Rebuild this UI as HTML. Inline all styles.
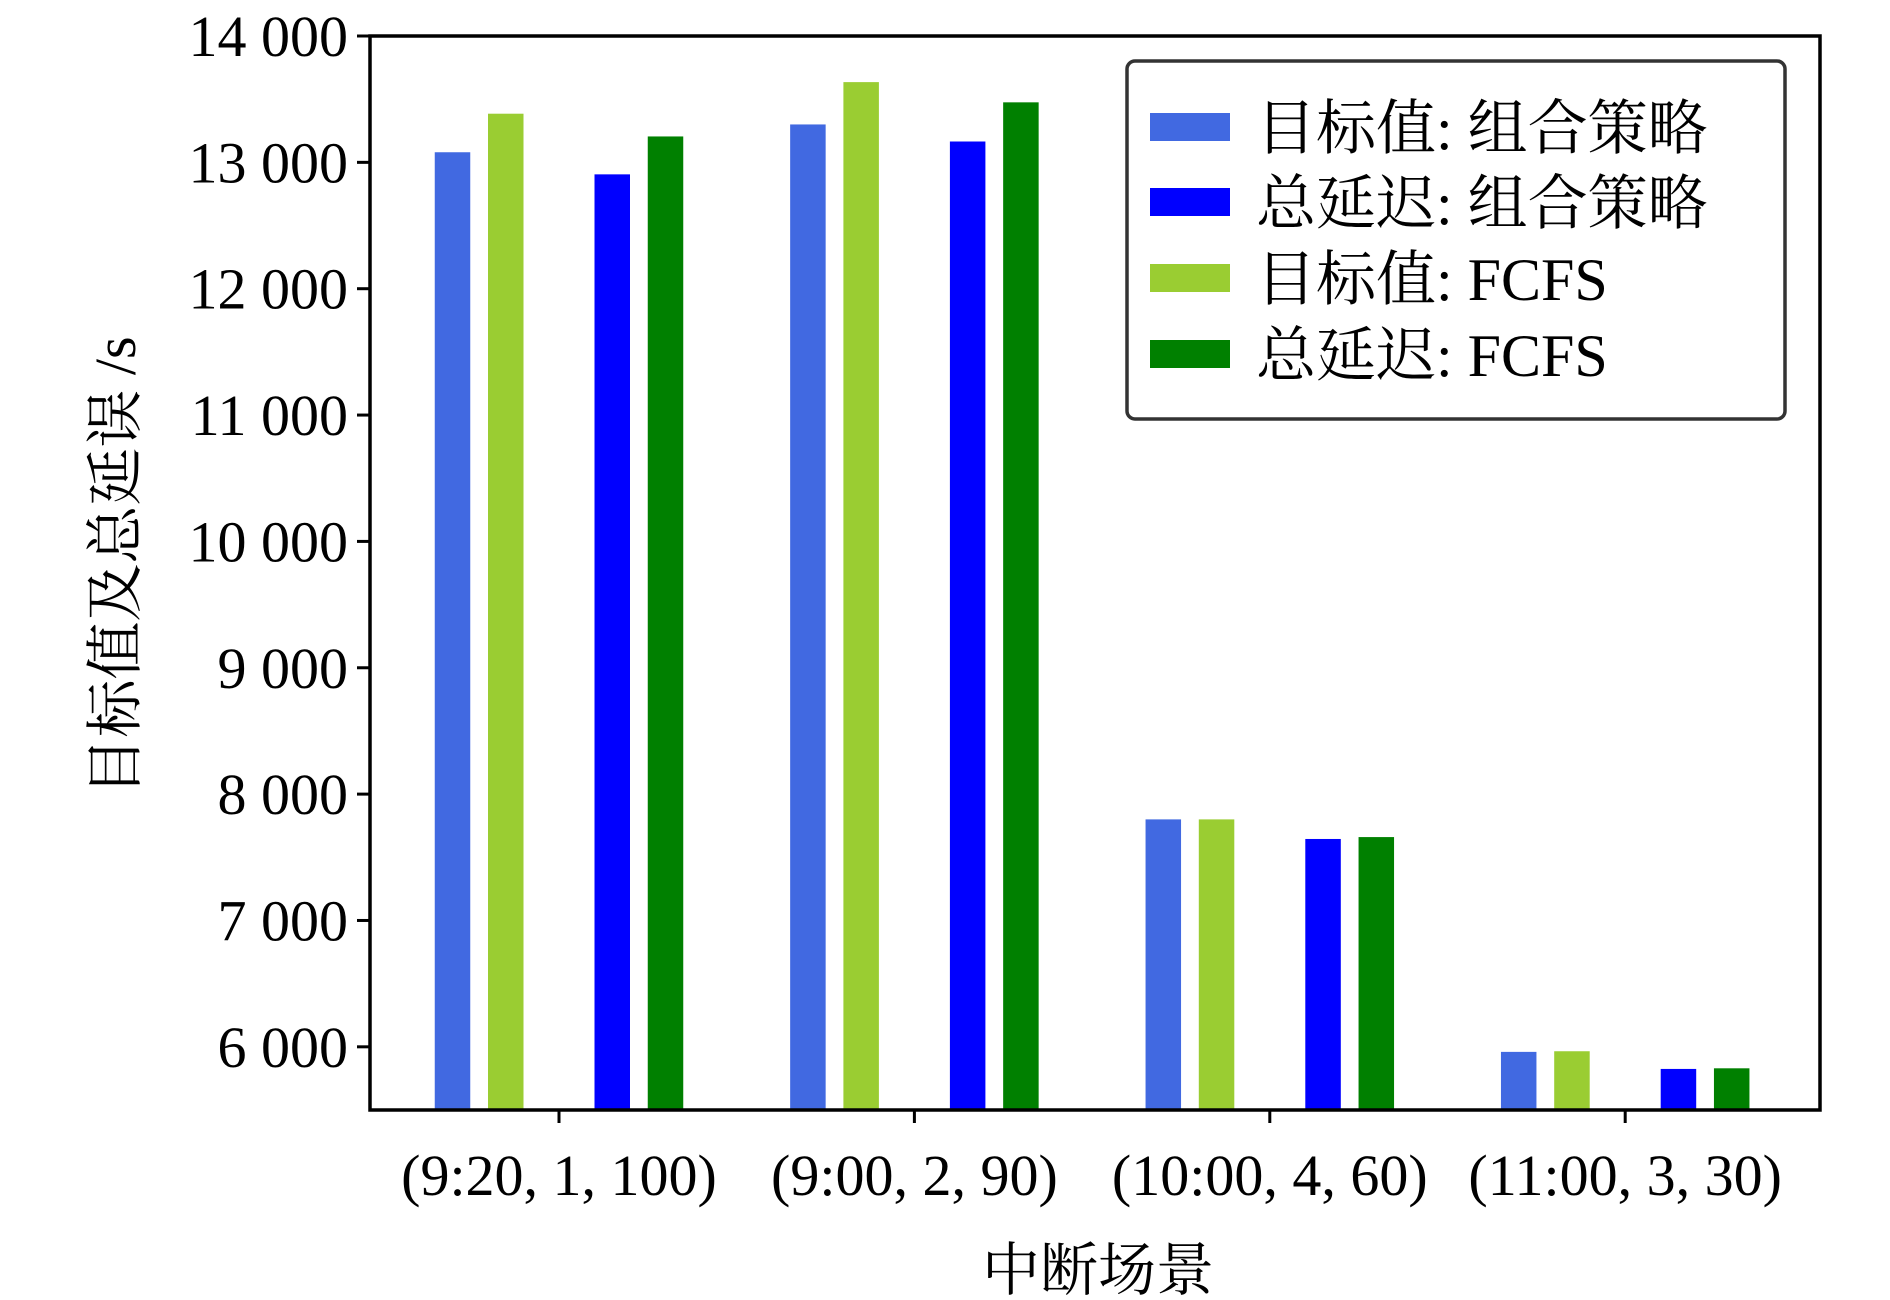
<!DOCTYPE html>
<html><head><meta charset="utf-8"><style>
body{margin:0;background:#fff}
svg text{font-family:"Liberation Serif","Noto Serif CJK SC",serif;fill:#000}
</style></head><body>
<svg id="chart" width="1890" height="1295" viewBox="0 0 1890 1295" xmlns="http://www.w3.org/2000/svg">
<g id="bars"></g>
<g id="axes"></g>
<g id="legend"></g>
</svg>
<script>
const categories = ["(9:20, 1, 100)", "(9:00, 2, 90)", "(10:00, 4, 60)", "(11:00, 3, 30)"];
const objCombo = [13080, 13300, 7800, 5960];
const objFcfs = [13385, 13635, 7800, 5965];
const delayCombo = [12905, 13165, 7645, 5825];
const delayFcfs = [13205, 13475, 7660, 5830];
const yTicks = [6000, 7000, 8000, 9000, 10000, 11000, 12000, 13000, 14000];
const yTickLabels = ["6 000","7 000","8 000","9 000","10 000","11 000","12 000","13 000","14 000"];
const seriesNames = ["目标值: 组合策略","总延迟: 组合策略","目标值: FCFS","总延迟: FCFS"];

const NS = "http://www.w3.org/2000/svg";
const L = 370, R = 1820, T = 36, B = 1110;
const yMin = 5500, yMax = 14000;
const y = v => B - (v - yMin) / (yMax - yMin) * (B - T);
const step = 355.4, x0 = 559;
const xc = i => x0 + i * step;
const bw = 35.5;
function mk(tag, attrs, parent){const e=document.createElementNS(NS,tag);for(const k in attrs)e.setAttribute(k,attrs[k]);parent.appendChild(e);return e;}

const series = [
  {vals: objCombo, color: "#4169e1", off: -3, name: "obj-combo"},
  {vals: objFcfs, color: "#9acd32", off: -1.5, name: "obj-fcfs"},
  {vals: delayCombo, color: "#0000ff", off: 1.5, name: "delay-combo"},
  {vals: delayFcfs, color: "#008000", off: 3, name: "delay-fcfs"}
];
const bars = document.getElementById("bars");
series.forEach(s => {
  s.vals.forEach((v, i) => {
    const cx = xc(i) + s.off * bw;
    const r = mk("rect", {x: cx - bw/2, y: y(v), width: bw, height: B - y(v), fill: s.color}, bars);
    
    
  });
});

const axes = document.getElementById("axes");
const frame = mk("rect", {x: L, y: T, width: R - L, height: B - T, fill: "none", stroke: "#000", "stroke-width": 3.5}, axes);


yTicks.forEach((t, i) => {
  const ln = mk("line", {x1: L - 13, x2: L, y1: y(t), y2: y(t), stroke: "#000", "stroke-width": 3}, axes);
  
  
  const tx = mk("text", {x: L - 22, y: y(t) + 20, "text-anchor": "end", "font-size": 58}, axes);
  tx.textContent = yTickLabels[i];
  
  
});
categories.forEach((c, i) => {
  const ln = mk("line", {x1: xc(i), x2: xc(i), y1: B, y2: B + 13, stroke: "#000", "stroke-width": 3}, axes);
  
  
  const tx = mk("text", {x: xc(i), y: 1195, "text-anchor": "middle", "font-size": 58}, axes);
  tx.textContent = c;
  
  
});
const xt = mk("text", {x: 1098, y: 1290, "text-anchor": "middle", "font-size": 58}, axes);
xt.textContent = "中断场景";


const yt = mk("text", {x: 0, y: 0, "text-anchor": "middle", "font-size": 58, transform: "translate(135,566) rotate(-90)"}, axes);
yt.textContent = "目标值及总延误 /s";



const lg = document.getElementById("legend");
const box = mk("rect", {x: 1127, y: 61, width: 658, height: 358, rx: 8, fill: "#fff", stroke: "#333", "stroke-width": 3.5}, lg);


const rowsY = [127, 202, 278, 354];
const colors = ["#4169e1", "#0000ff", "#9acd32", "#008000"];
seriesNames.forEach((n, i) => {
  const p = mk("rect", {x: 1150, y: rowsY[i] - 14, width: 80, height: 28, fill: colors[i]}, lg);
  
  
  const t = mk("text", {x: 1256, y: rowsY[i] + 22, "font-size": 60}, lg);
  t.textContent = n;
  
  
});
</script>
</body></html>
